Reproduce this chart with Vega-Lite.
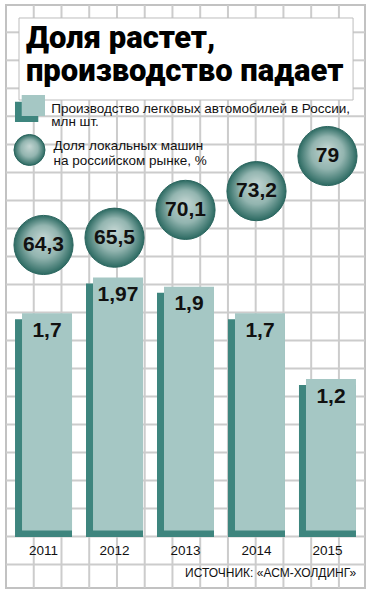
{
  "$schema": "https://vega.github.io/schema/vega-lite/v6.json",
  "width": 359,
  "height": 583,
  "padding": {"left": 6, "top": 5, "right": 6, "bottom": 4},
  "autosize": {"type": "none"},
  "background": "#ffffff",
  "config": {
    "view": {"stroke": "#c2c2c2", "strokeWidth": 2},
    "axis": {"disable": true},
    "locale": {"number": {"decimal": ",", "thousands": " ", "grouping": [3], "currency": ["", ""]}},
    "text": {"font": "Liberation Sans", "color": "#111111"},
    "rule": {"color": "#cccccc", "strokeWidth": 2}
  },
  "datasets": {
    "cars": [
      {"year": "2011", "prod": 1.7, "share": 64.3},
      {"year": "2012", "prod": 1.97, "share": 65.5},
      {"year": "2013", "prod": 1.9, "share": 70.1},
      {"year": "2014", "prod": 1.7, "share": 73.2},
      {"year": "2015", "prod": 1.2, "share": 79}
    ]
  },
  "layer": [
    {
      "data": {"values": [{}]},
      "layer": [
        {"mark": "rule", "encoding": {
          "x": {"datum": 1, "type": "quantitative", "scale": {"domain": [0, 12.94], "nice": false, "zero": false}, "axis": null},
          "y": {"datum": 3.416, "type": "quantitative", "scale": {"domain": [0.025, 20.835], "reverse": true, "nice": false, "zero": false}, "axis": null},
          "y2": {"datum": 20.835}}},
        {"mark": "rule", "encoding": {"x": {"datum": 2}, "y": {"datum": 3.416}, "y2": {"datum": 20.835}}},
        {"mark": "rule", "encoding": {"x": {"datum": 3}, "y": {"datum": 3.416}, "y2": {"datum": 20.835}}},
        {"mark": "rule", "encoding": {"x": {"datum": 4}, "y": {"datum": 3.416}, "y2": {"datum": 20.835}}},
        {"mark": "rule", "encoding": {"x": {"datum": 5}, "y": {"datum": 3.416}, "y2": {"datum": 20.835}}},
        {"mark": "rule", "encoding": {"x": {"datum": 6}, "y": {"datum": 3.416}, "y2": {"datum": 20.835}}},
        {"mark": "rule", "encoding": {"x": {"datum": 7}, "y": {"datum": 3.416}, "y2": {"datum": 20.835}}},
        {"mark": "rule", "encoding": {"x": {"datum": 8}, "y": {"datum": 3.416}, "y2": {"datum": 20.835}}},
        {"mark": "rule", "encoding": {"x": {"datum": 9}, "y": {"datum": 3.416}, "y2": {"datum": 20.835}}},
        {"mark": "rule", "encoding": {"x": {"datum": 10}, "y": {"datum": 3.416}, "y2": {"datum": 20.835}}},
        {"mark": "rule", "encoding": {"x": {"datum": 11}, "y": {"datum": 3.416}, "y2": {"datum": 20.835}}},
        {"mark": "rule", "encoding": {"x": {"datum": 12}, "y": {"datum": 3.416}, "y2": {"datum": 20.835}}},
        {"mark": "rule", "encoding": {"x": {"datum": 1}, "y": {"datum": 0.025}, "y2": {"datum": 0.489}}},
        {"mark": "rule", "encoding": {"x": {"datum": 2}, "y": {"datum": 0.025}, "y2": {"datum": 0.489}}},
        {"mark": "rule", "encoding": {"x": {"datum": 3}, "y": {"datum": 0.025}, "y2": {"datum": 0.489}}},
        {"mark": "rule", "encoding": {"x": {"datum": 4}, "y": {"datum": 0.025}, "y2": {"datum": 0.489}}},
        {"mark": "rule", "encoding": {"x": {"datum": 5}, "y": {"datum": 0.025}, "y2": {"datum": 0.489}}},
        {"mark": "rule", "encoding": {"x": {"datum": 6}, "y": {"datum": 0.025}, "y2": {"datum": 0.489}}},
        {"mark": "rule", "encoding": {"x": {"datum": 7}, "y": {"datum": 0.025}, "y2": {"datum": 0.489}}},
        {"mark": "rule", "encoding": {"x": {"datum": 8}, "y": {"datum": 0.025}, "y2": {"datum": 0.489}}},
        {"mark": "rule", "encoding": {"x": {"datum": 9}, "y": {"datum": 0.025}, "y2": {"datum": 0.489}}},
        {"mark": "rule", "encoding": {"x": {"datum": 10}, "y": {"datum": 0.025}, "y2": {"datum": 0.489}}},
        {"mark": "rule", "encoding": {"x": {"datum": 11}, "y": {"datum": 0.025}, "y2": {"datum": 0.489}}},
        {"mark": "rule", "encoding": {"x": {"datum": 12}, "y": {"datum": 0.025}, "y2": {"datum": 0.489}}},
        {"mark": "rule", "encoding": {"y": {"datum": 1}, "x": {"datum": 0}, "x2": {"datum": 0.469}}},
        {"mark": "rule", "encoding": {"y": {"datum": 2}, "x": {"datum": 0}, "x2": {"datum": 0.469}}},
        {"mark": "rule", "encoding": {"y": {"datum": 3}, "x": {"datum": 0}, "x2": {"datum": 0.469}}},
        {"mark": "rule", "encoding": {"y": {"datum": 1}, "x": {"datum": 12.51}, "x2": {"datum": 12.94}}},
        {"mark": "rule", "encoding": {"y": {"datum": 2}, "x": {"datum": 12.51}, "x2": {"datum": 12.94}}},
        {"mark": "rule", "encoding": {"y": {"datum": 3}, "x": {"datum": 12.51}, "x2": {"datum": 12.94}}},
        {"mark": "rule", "encoding": {"y": {"datum": 4}, "x": {"datum": 0}, "x2": {"datum": 12.94}}},
        {"mark": "rule", "encoding": {"y": {"datum": 5}, "x": {"datum": 0}, "x2": {"datum": 12.94}}},
        {"mark": "rule", "encoding": {"y": {"datum": 6}, "x": {"datum": 0}, "x2": {"datum": 12.94}}},
        {"mark": "rule", "encoding": {"y": {"datum": 7}, "x": {"datum": 0}, "x2": {"datum": 12.94}}},
        {"mark": "rule", "encoding": {"y": {"datum": 8}, "x": {"datum": 0}, "x2": {"datum": 12.94}}},
        {"mark": "rule", "encoding": {"y": {"datum": 9}, "x": {"datum": 0}, "x2": {"datum": 12.94}}},
        {"mark": "rule", "encoding": {"y": {"datum": 10}, "x": {"datum": 0}, "x2": {"datum": 12.94}}},
        {"mark": "rule", "encoding": {"y": {"datum": 11}, "x": {"datum": 0}, "x2": {"datum": 12.94}}},
        {"mark": "rule", "encoding": {"y": {"datum": 12}, "x": {"datum": 0}, "x2": {"datum": 12.94}}},
        {"mark": "rule", "encoding": {"y": {"datum": 13}, "x": {"datum": 0}, "x2": {"datum": 12.94}}},
        {"mark": "rule", "encoding": {"y": {"datum": 14}, "x": {"datum": 0}, "x2": {"datum": 12.94}}},
        {"mark": "rule", "encoding": {"y": {"datum": 15}, "x": {"datum": 0}, "x2": {"datum": 12.94}}},
        {"mark": "rule", "encoding": {"y": {"datum": 16}, "x": {"datum": 0}, "x2": {"datum": 12.94}}},
        {"mark": "rule", "encoding": {"y": {"datum": 17}, "x": {"datum": 0}, "x2": {"datum": 12.94}}},
        {"mark": "rule", "encoding": {"y": {"datum": 18}, "x": {"datum": 0}, "x2": {"datum": 12.94}}},
        {"mark": "rule", "encoding": {"y": {"datum": 19}, "x": {"datum": 0}, "x2": {"datum": 12.94}}},
        {"mark": "rule", "encoding": {"y": {"datum": 20}, "x": {"datum": 0}, "x2": {"datum": 12.94}}},
        {
          "mark": {"type": "rect", "fill": "none", "stroke": "#bdbdbd", "strokeWidth": 1},
          "encoding": {"x": {"datum": 0.469}, "x2": {"datum": 12.51}, "y": {"datum": 0.489}, "y2": {"datum": 3.416}}
        },
        {
          "mark": {"type": "text", "text": ["Доля растет,", "производство падает"], "lineHeight": 32.5, "font": "Roboto", "fontWeight": 900, "fontSize": 31, "align": "left", "baseline": "alphabetic", "color": "#000000"},
          "encoding": {"x": {"datum": 0.72}, "y": {"datum": 1.56}}
        },
        {
          "mark": {"type": "rect", "color": "#3e857e", "opacity": 1},
          "encoding": {"x": {"datum": 0.324}, "x2": {"datum": 1.164}, "y": {"datum": 3.477}, "y2": {"datum": 4.201}}
        },
        {
          "mark": {"type": "rect", "color": "#a5c7c4", "opacity": 1},
          "encoding": {"x": {"datum": 0.566}, "x2": {"datum": 1.406}, "y": {"datum": 3.238}, "y2": {"datum": 3.987}}
        },
        {
          "mark": {
            "type": "circle", "size": 961, "opacity": 1, "stroke": "#2a655e", "strokeWidth": 1,
            "fill": {"gradient": "radial", "x1": 0.5, "y1": 0.38, "r1": 0, "x2": 0.5, "y2": 0.5, "r2": 0.5,
              "stops": [{"offset": 0, "color": "#c4d6d3"}, {"offset": 0.55, "color": "#93b5b0"}, {"offset": 1, "color": "#2c6a62"}]}
          },
          "encoding": {"x": {"datum": 0.847}, "y": {"datum": 5.2}}
        },
        {
          "mark": {"type": "text", "text": ["Производство легковых автомобилей в России,", "млн шт."], "lineHeight": 12.7, "fontSize": 13.5, "align": "left", "baseline": "alphabetic"},
          "encoding": {"x": {"datum": 1.63}, "y": {"datum": 3.89}}
        },
        {
          "mark": {"type": "text", "text": ["Доля локальных машин", "на российском рынке, %"], "lineHeight": 15, "fontSize": 13.5, "align": "left", "baseline": "alphabetic"},
          "encoding": {"x": {"datum": 1.71}, "y": {"datum": 5.2}}
        },
        {
          "mark": {"type": "text", "text": "ИСТОЧНИК: «АСМ-ХОЛДИНГ»", "fontSize": 12, "align": "right", "baseline": "alphabetic"},
          "encoding": {"x": {"datum": 12.62}, "y": {"datum": 20.445}}
        }
      ]
    },
    {
      "data": {"name": "cars"},
      "encoding": {
        "x": {"field": "year", "type": "nominal", "scale": {"type": "band", "paddingInner": 0.197, "paddingOuter": 0.127}, "axis": null},
        "y": {"field": "prod", "type": "quantitative", "scale": {"domain": [-0.387, 4.04], "nice": false, "zero": false}, "axis": null}
      },
      "layer": [
        {"mark": {"type": "bar", "color": "#3e857e", "yOffset": 6}, "encoding": {"y2": {"datum": 0}}},
        {"mark": {"type": "bar", "color": "#a5c7c4", "width": {"band": 0.877}, "xOffset": 3.5, "y2Offset": -6.5}, "encoding": {"y2": {"datum": 0}}},
        {
          "mark": {"type": "text", "fontWeight": "bold", "fontSize": 21, "baseline": "middle", "dx": 3.5, "dy": 17.5, "color": "#111111"},
          "encoding": {"text": {"field": "prod", "type": "quantitative", "format": ".3~r"}}
        },
        {
          "mark": {"type": "text", "fontSize": 13.5, "baseline": "alphabetic", "dy": 18},
          "encoding": {"y": {"datum": 0, "type": "quantitative", "axis": null}, "text": {"field": "year", "type": "nominal"}}
        }
      ]
    },
    {
      "data": {"name": "cars"},
      "encoding": {
        "x": {"field": "year", "type": "nominal", "scale": {"type": "band", "paddingInner": 0.197, "paddingOuter": 0.127}, "axis": null},
        "y": {"field": "share", "type": "quantitative", "scale": {"domain": [7.59, 103.97], "nice": false, "zero": false}, "axis": null}
      },
      "layer": [
        {
          "mark": {
            "type": "circle", "size": 3500, "opacity": 1, "stroke": "#2a655e", "strokeWidth": 1,
            "fill": {"gradient": "radial", "x1": 0.5, "y1": 0.38, "r1": 0, "x2": 0.5, "y2": 0.5, "r2": 0.5,
              "stops": [{"offset": 0, "color": "#c4d6d3"}, {"offset": 0.55, "color": "#93b5b0"}, {"offset": 1, "color": "#2c6a62"}]}
          }
        },
        {
          "mark": {"type": "text", "fontWeight": "bold", "fontSize": 21, "baseline": "middle", "color": "#111111"},
          "encoding": {"text": {"field": "share", "type": "quantitative", "format": ".3~r"}}
        }
      ]
    }
  ],
  "resolve": {"scale": {"x": "independent", "y": "independent"}}
}
